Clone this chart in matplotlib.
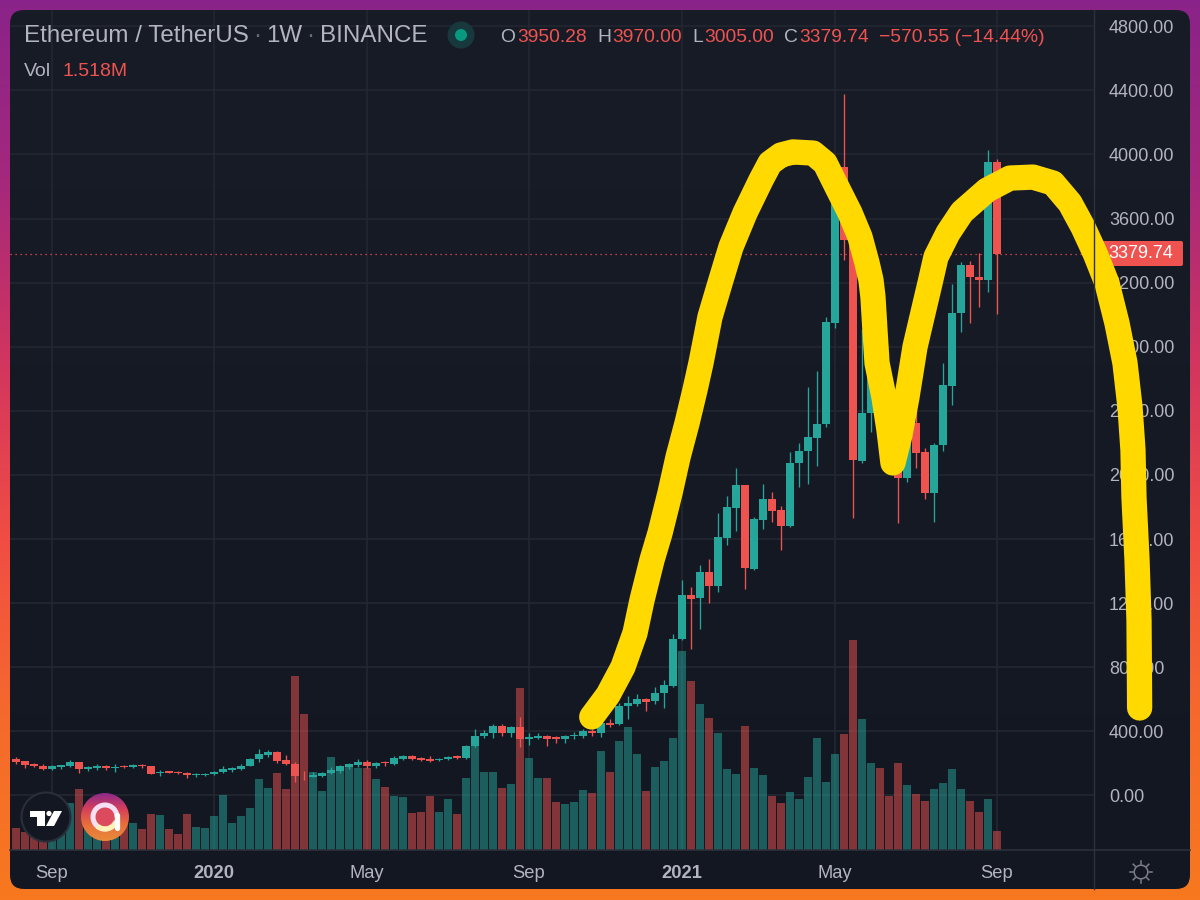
#!/usr/bin/env python3
import numpy as np
import matplotlib
matplotlib.use('Agg')
import matplotlib.pyplot as plt
from matplotlib.colors import LinearSegmentedColormap
from matplotlib.patches import Arc, Circle, FancyBboxPatch, Polygon

plt.rcParams['font.family'] = ['Liberation Sans', 'DejaVu Sans']

# weekly candles (USDT)
opens = [226, 213, 199, 186, 168, 176, 184, 209, 165, 170,
         182, 174, 186, 180, 190, 184, 138, 153, 149, 143,
         126, 128, 132, 145, 157, 165, 186, 226, 255, 274,
         219, 199, 124, 118, 122, 140, 153, 176, 190, 209,
         182, 207, 197, 228, 244, 234, 230, 219, 226, 244,
         234, 307, 369, 388, 434, 388, 427, 350, 361, 371,
         363, 350, 369, 373, 402, 392, 450, 444, 556, 571,
         602, 590, 637, 683, 979, 1251, 1230, 1393, 1309, 1609,
         1796, 1936, 1413, 1721, 1848, 1782, 1680, 2073, 2148, 2231,
         2316, 2947, 3924, 3467, 2089, 2385, 2660, 2360, 2240, 1979,
         2322, 2141, 1890, 2187, 2556, 3009, 3309, 3238, 3219, 3950.28]
closes = [209, 190, 184, 168, 182, 188, 209, 163, 176, 184,
          172, 180, 178, 190, 182, 136, 149, 143, 140, 126,
          134, 134, 149, 168, 170, 186, 228, 261, 274, 215,
          197, 122, 120, 130, 140, 157, 182, 197, 209, 182,
          203, 201, 232, 244, 230, 221, 215, 228, 242, 234,
          311, 371, 390, 434, 388, 427, 350, 367, 373, 354,
          352, 371, 379, 404, 392, 450, 442, 558, 575, 602,
          585, 639, 687, 974, 1251, 1228, 1393, 1309, 1613, 1800,
          1936, 1418, 1725, 1848, 1777, 1684, 2077, 2152, 2235, 2320,
          2953, 3920, 3467, 2094, 2385, 2655, 2360, 2240, 1979, 2322,
          2139, 1890, 2187, 2562, 3013, 3309, 3234, 3219, 3953, 3379.74]
highs = [242, 217, 205, 195, 188, 192, 222, 211, 186, 195,
         190, 199, 192, 195, 195, 186, 159, 155, 155, 145,
         140, 140, 151, 184, 176, 197, 236, 288, 284, 276,
         251, 209, 155, 145, 149, 180, 192, 205, 226, 220,
         209, 217, 247, 253, 253, 240, 246, 234, 248, 250,
         317, 413, 406, 444, 448, 431, 490, 388, 390, 375,
         369, 377, 396, 417, 413, 461, 475, 575, 619, 633,
         606, 675, 719, 1010, 1345, 1301, 1438, 1478, 1763, 1869,
         2042, 1940, 1736, 1944, 1892, 1809, 2146, 2202, 2549, 2647,
         2984, 3982, 4376, 3550, 2909, 2750, 2750, 2440, 2350, 2360,
         2406, 2166, 2198, 2699, 3192, 3329, 3333, 3383, 4028, 3970]
lows = [197, 172, 176, 159, 159, 163, 180, 143, 155, 161,
        159, 147, 172, 174, 172, 134, 122, 138, 134, 109,
        115, 120, 128, 138, 145, 159, 182, 209, 242, 205,
        190, 84, 97, 113, 113, 134, 143, 163, 180, 174,
        172, 186, 192, 219, 224, 215, 211, 217, 221, 226,
        230, 300, 357, 361, 373, 365, 305, 317, 350, 309,
        330, 327, 354, 361, 369, 365, 425, 440, 477, 556,
        529, 573, 548, 679, 970, 914, 1039, 1203, 1268, 1563,
        1653, 1291, 1409, 1661, 1709, 1534, 1676, 1927, 1942, 2056,
        2302, 2920, 3342, 1730, 2077, 2270, 2260, 2110, 1698, 1958,
        2046, 1848, 1705, 2150, 2437, 2893, 2947, 3051, 3140, 3005]
# volume in millions
volumes = [1.76, 1.44, 1.2, 0.8, 2.0, 2.8, 3.76, 4.88, 3.2, 2.8,
           3.2, 4.24, 3.2, 2.16, 1.68, 2.88, 2.8, 1.68, 1.28, 2.88,
           1.84, 1.76, 2.72, 4.4, 2.16, 2.72, 3.36, 5.68, 4.96, 6.16,
           4.88, 13.92, 10.88, 6.24, 4.72, 7.44, 6.56, 6.8, 6.56, 6.56,
           5.68, 5.04, 4.32, 4.24, 2.96, 3.04, 4.32, 3.04, 4.08, 2.88,
           5.76, 8.32, 6.24, 6.24, 4.96, 5.28, 12.96, 7.36, 5.76, 5.76,
           3.84, 3.68, 3.84, 4.8, 4.56, 7.92, 6.24, 8.72, 9.84, 7.68,
           4.72, 6.64, 7.12, 8.96, 15.92, 13.52, 11.68, 10.56, 9.36, 6.48,
           6.08, 9.92, 6.56, 6.0, 4.32, 3.76, 4.64, 4.08, 5.84, 8.96,
           5.44, 7.68, 9.28, 16.8, 10.48, 6.96, 6.56, 4.32, 6.96, 5.2,
           4.48, 3.92, 4.88, 5.36, 6.48, 4.88, 3.92, 3.04, 4.08, 1.518]

tick_weeks = [4, 22, 39, 57, 74, 91, 109]
tick_labels = ['Sep', '2020', 'May', 'Sep', '2021', 'May', 'Sep']
price_ticks = [0, 400, 800, 1200, 1600, 2000, 2400, 2800, 3200, 3600, 4000, 4400, 4800]
last_price = 3379.74

# the hand-drawn yellow stroke, in (week, price)
stroke_weeks = [63.97, 65.78, 67.44, 68.78, 69.56, 70.67, 71.56, 72.67, 73.56, 74.56, 75.44,
                76.11, 77.11, 78.33, 79.44, 81.0, 82.78, 83.78, 85.0, 86.33, 88.56, 89.89,
                91.22, 92.67, 93.78, 94.56, 95.0, 95.22, 95.44, 95.67, 96.44, 97.0, 97.44, 98.22,
                99.0, 99.89, 100.67, 101.56, 102.22, 103.56, 105.11, 107.89, 110.44, 113.0,
                115.22, 117.11, 118.56, 119.89, 121.22, 122.33, 123.22, 123.78, 124.11,
                124.22, 124.56, 124.78, 124.83, 124.85]
stroke_prices = [490, 627, 802, 1014, 1220, 1470, 1638, 1888, 2112, 2324, 2530,
                 2699, 2986, 3217, 3423, 3635, 3841, 3947, 3997, 4016, 4009, 3947,
                 3797, 3635, 3485, 3323, 3216, 3111, 2905, 2699, 2487, 2281, 2075, 2250,
                 2487, 2799, 2986, 3198, 3360, 3510, 3641, 3778, 3853, 3859,
                 3822, 3697, 3547, 3385, 3198, 2948, 2699, 2424, 2156,
                 1863, 1470, 1095, 721, 546]

TEAL = '#26a69a'
RED = '#ef5350'
GRID = '#242833'
LINE = '#2e323d'
TEXT = '#b2b5be'
W, H = 1200, 900
X_RANGE = (-0.667, 119.78)
Y_RANGE = (-340.1, 4901.7)


def pixel_axes(zorder):
    a = fig.add_axes([0, 0, 1, 1], zorder=zorder)
    a.set_xlim(0, W)
    a.set_ylim(H, 0)
    a.axis('off')
    return a


fig = plt.figure(figsize=(W / 100, H / 100), dpi=100)

# page gradient and rounded panel
back = pixel_axes(0)
page_cmap = LinearSegmentedColormap.from_list('page', ['#8a2389', '#a5287c', '#d2355f', '#f14d44', '#f56a2c', '#f8781f'])
back.imshow(np.linspace(0, 1, 256)[:, None], cmap=page_cmap, extent=(0, W, H, 0), aspect='auto')
panel_cmap = LinearSegmentedColormap.from_list('panel', ['#181c27', '#131722'])
panel_img = back.imshow(np.linspace(0, 1, 256)[:, None], cmap=panel_cmap, extent=(10, 1190, 889, 10), aspect='auto')
panel = FancyBboxPatch((10, 10), 1180, 879, boxstyle='round,pad=0,rounding_size=14', fc='none', ec='none')
back.add_patch(panel)
panel_img.set_clip_path(panel)
back.set_xlim(0, W)
back.set_ylim(H, 0)

rect = [10 / W, 1 - 850 / H, 1084 / W, 840 / H]

# grid and tick labels at the bottom, then volume, then candles
ax = fig.add_axes(rect, zorder=1)
ax.patch.set_visible(False)
ax_vol = fig.add_axes(rect, zorder=2)
ax_vol.patch.set_visible(False)
ax_price = fig.add_axes(rect, zorder=3)
ax_price.patch.set_visible(False)

weeks = np.arange(len(closes))
up = np.array(closes) >= np.array(opens)
colors = [TEAL if u else RED for u in up]

ax_vol.bar(weeks, volumes, width=0.82, color=colors, alpha=0.5)
ax_vol.set_xlim(*X_RANGE)
ax_vol.set_ylim(0, 67.2)
ax_vol.axis('off')

ax.set_xlim(*X_RANGE)
ax.set_ylim(*Y_RANGE)
ax.grid(True, color=GRID, linewidth=1.1)
for s in ['top', 'left', 'right', 'bottom']:
    ax.spines[s].set_visible(False)
ax.yaxis.tick_right()
ax.set_yticks(price_ticks)
ax.set_yticklabels(['%.2f' % p for p in price_ticks])
ax.tick_params(axis='y', length=0, pad=10.8, labelsize=13.0, labelcolor=TEXT)
ax.set_xticks(tick_weeks)
ax.set_xticklabels(tick_labels)
ax.tick_params(axis='x', length=0, pad=10.5, labelsize=13.2, labelcolor=TEXT)
for lab in ax.get_xticklabels():
    if lab.get_text().startswith('20'):
        lab.set_fontweight('bold')

# candles
ax_price.vlines(weeks, lows, highs, colors=colors, linewidth=0.95, zorder=3)
ax_price.bar(weeks, np.abs(np.array(closes) - np.array(opens)), bottom=np.minimum(opens, closes),
             width=0.8, color=colors, zorder=4)
ax_price.axhline(last_price, color=RED, linewidth=0.9, linestyle=(0, (1, 3)), zorder=2.8)
ax_price.set_xlim(*X_RANGE)
ax_price.set_ylim(*Y_RANGE)
ax_price.axis('off')

# last price tag sits under the yellow stroke
tag = FancyBboxPatch((1101, 241), 82, 25, boxstyle='round,pad=0,rounding_size=2', fc=RED, ec='none',
                     transform=back.transData, clip_on=False, zorder=6)
ax_price.add_patch(tag)
ax_price.text(1141 / W, 1 - 254 / H, '%.2f' % last_price, transform=fig.transFigure, color='white',
              fontsize=13.0, ha='center', va='center', zorder=7, clip_on=False)

ax_price.plot(stroke_weeks, stroke_prices, color='#ffd900', linewidth=18.2, solid_capstyle='round',
              solid_joinstyle='round', clip_on=False, zorder=10)

# everything in screen pixels on top: dividers, header, logos, sun icon
top = pixel_axes(4)
top.plot([10, 1190], [850, 850], color=LINE, linewidth=1.1)
top.plot([1094, 1094], [10, 889], color=LINE, linewidth=1.0)

top.text(24, 36, 'Ethereum / TetherUS', color=TEXT, fontsize=17.4, va='center')
top.text(257, 36, '·', color='#6a6d78', fontsize=17.4, va='center', ha='center')
top.text(266, 36, '1W', color=TEXT, fontsize=17.4, va='center')
top.text(310, 36, '·', color='#6a6d78', fontsize=17.4, va='center', ha='center')
top.text(320, 36, 'BINANCE', color=TEXT, fontsize=17.4, va='center')
top.add_patch(Circle((461, 35), 13.5, fc='#17383c', ec='none'))
top.add_patch(Circle((461, 35), 6, fc='#089981', ec='none'))
for lab, x_lab, val, x_val in [('O', 500, '3950.28', 517), ('H', 597, '3970.00', 612),
                               ('L', 692, '3005.00', 704), ('C', 784, '3379.74', 799)]:
    top.text(x_lab, 37, lab, color=TEXT, fontsize=13.9, va='center')
    top.text(x_val, 37, val, color=RED, fontsize=13.9, va='center')
top.text(879, 37, '\u2212570.55 (\u221214.44%)', color=RED, fontsize=13.9, va='center')
top.text(24, 72, 'Vol', color=TEXT, fontsize=14, va='center')
top.text(63, 72, '1.518M', color=RED, fontsize=14, va='center')

# TradingView badge
top.add_patch(Circle((46, 817), 24.5, fc='#131722', ec='#2a2e39', linewidth=1.5))
top.add_patch(Polygon([(30, 811), (45, 811), (45, 826), (37, 826), (37, 817), (30, 817)], fc='white', ec='none'))
top.add_patch(Circle((49, 813.5), 2.6, fc='white', ec='none'))
top.add_patch(Polygon([(54, 811), (62, 811), (54, 826), (46, 826)], fc='white', ec='none'))

# app badge
badge_cmap = LinearSegmentedColormap.from_list('badge', ['#8e2a8a', '#d6405a', '#e8703a', '#e88a3a'])
badge_img = top.imshow(np.linspace(0, 1, 64)[:, None], cmap=badge_cmap, extent=(81, 129, 841, 793), aspect='auto')
badge = Circle((105, 817), 24, fc='none', ec='none')
top.add_patch(badge)
badge_img.set_clip_path(badge)
top.set_xlim(0, W)
top.set_ylim(H, 0)
top.add_patch(Circle((105, 817), 9, fc='#dc4a5e', ec='none'))
top.add_patch(Arc((105, 817), 24, 24, theta1=20, theta2=360, ec='#f7e0f5', linewidth=3.6))
top.add_patch(Arc((105, 817), 24, 24, theta1=30, theta2=130, ec='#fff2b8', linewidth=3.6))
top.plot([117, 117], [815, 828], color='white', linewidth=3.8, solid_capstyle='round')

# sun icon
SUN = '#7c7f8a'
top.add_patch(Circle((1141, 872), 6.8, fc='none', ec=SUN, linewidth=1.1))
for ang in np.arange(0, 360, 45):
    dx, dy = np.cos(np.radians(ang)), np.sin(np.radians(ang))
    top.plot([1141 + 8.2 * dx, 1141 + 11 * dx], [872 + 8.2 * dy, 872 + 11 * dy], color=SUN, linewidth=1.1)

fig.savefig('out.png', dpi=100)
